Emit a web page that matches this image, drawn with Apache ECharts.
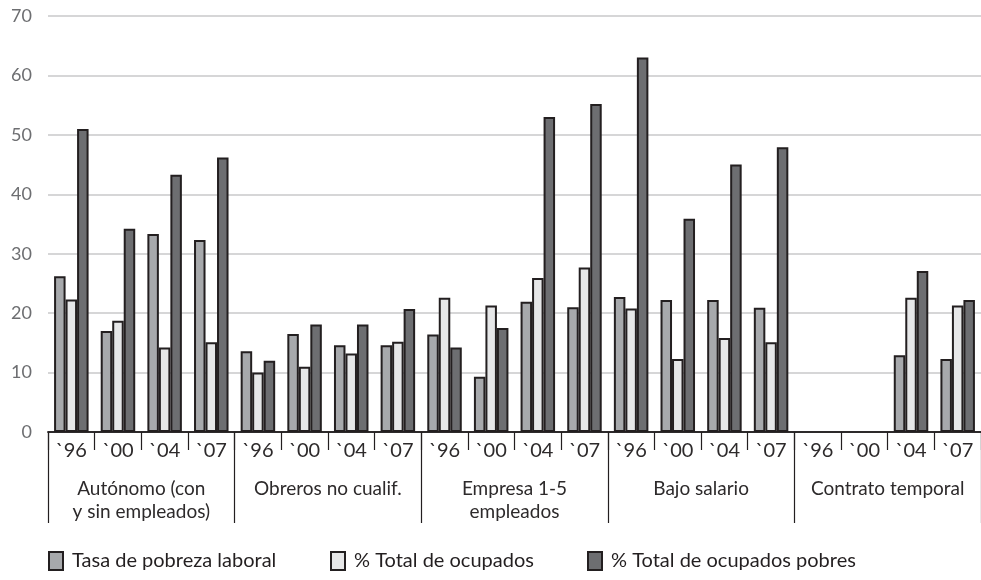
<!DOCTYPE html>
<html>
<head>
<meta charset="utf-8">
<script src="https://cdn.jsdelivr.net/npm/echarts@6/dist/echarts.min.js"></script>
<style>
  html, body { margin: 0; padding: 0; background: #ffffff; }
  #chart { width: 981px; height: 580px; }
</style>
</head>
<body>
<div id="chart"></div>
<script>
// Categories: five worker groups, each with four survey years
const groups = ['Autónomo (con\ny sin empleados)', 'Obreros no cualif.', 'Empresa 1-5\nempleados', 'Bajo salario', 'Contrato temporal'];
const years = ['`96', '`00', '`04', '`07'];
const yTicks = [0, 10, 20, 30, 40, 50, 60, 70];

// Series values, in group order, four years per group
const tasaPobreza = [26.2, 17.0, 33.3, 32.3,  13.6, 16.5, 14.6, 14.6,  16.4, 9.3, 21.9, 21.0,  22.7, 22.2, 22.2, 20.9,  null, null, 12.9, 12.3];
const totalOcupados = [22.3, 18.7, 14.2, 15.1,  10.0, 11.0, 13.2, 15.2,  22.6, 21.3, 25.9, 27.7,  20.8, 12.3, 15.8, 15.1,  null, null, 22.6, 21.3];
const totalPobres = [51.0, 34.2, 43.3, 46.2,  12.0, 18.1, 18.1, 20.7,  14.2, 17.5, 53.0, 55.2,  63.0, 35.9, 45.0, 47.9,  null, null, 27.1, 22.2];

const seriesNames = ['Tasa de pobreza laboral', '% Total de ocupados', '% Total de ocupados pobres'];
const seriesColors = ['#a7a9ac', '#e6e7e8', '#6d6e71'];

const FONT = 'Lato, "Open Sans", sans-serif';
const INK = '#231f20';

const yearAxisData = [];
groups.forEach(() => years.forEach(y => yearAxisData.push(y)));

const chart = echarts.init(document.getElementById('chart'), null, { renderer: 'canvas' });

const seriesData = [tasaPobreza, totalOcupados, totalPobres];
const series = seriesData.map((vals, i) => ({
  name: seriesNames[i],
  type: 'bar',
  xAxisIndex: 0,
  yAxisIndex: 0,
  data: vals,
  barWidth: 11.5,
  barGap: '0%',
  itemStyle: { color: seriesColors[i], borderColor: INK, borderWidth: 2 },
  emphasis: { disabled: true },
  animation: false
}));

// One legend block per series so each entry sits at its own x position
const legendLefts = [48, 330, 587];
const legends = seriesNames.map((n, i) => ({
  data: [n],
  left: legendLefts[i],
  top: 551,
  padding: 0,
  orient: 'horizontal',
  icon: 'rect',
  itemWidth: 14,
  itemHeight: 18,
  selectedMode: false,
  textStyle: { fontFamily: FONT, fontSize: 20, color: INK, padding: [0, 0, 0, 4] }
}));

chart.setOption({
  animation: false,
  backgroundColor: '#ffffff',
  grid: { left: 48, right: -12, top: 16, bottom: 148, containLabel: false },
  legend: legends,
  xAxis: [
    {
      type: 'category',
      data: yearAxisData,
      position: 'bottom',
      axisLine: { show: true, lineStyle: { color: INK, width: 1.5 } },
      axisTick: { show: true, interval: 0, length: 18, lineStyle: { color: INK, width: 1.2 } },
      axisLabel: { interval: 0, margin: 9, fontFamily: FONT, fontSize: 20, color: '#2d2a2b' },
      splitLine: { show: false }
    },
    {
      type: 'category',
      data: groups,
      position: 'bottom',
      axisLine: { show: true, lineStyle: { color: INK, width: 1.5 } },
      axisTick: { show: true, interval: 0, length: 91, lineStyle: { color: INK, width: 1.2 } },
      axisLabel: { interval: 0, margin: 45, fontFamily: FONT, fontSize: 19, lineHeight: 23, color: '#2d2a2b' },
      splitLine: { show: false }
    }
  ],
  yAxis: {
    type: 'value',
    min: yTicks[0],
    max: yTicks[yTicks.length - 1],
    interval: 10,
    axisLine: { show: false },
    axisTick: { show: false },
    axisLabel: { margin: 16, fontFamily: FONT, fontSize: 18, color: '#6d6e71' },
    splitLine: { show: true, lineStyle: { color: '#c8c8ca', width: 1.5 } }
  },
  series: series
});
</script>
</body>
</html>
